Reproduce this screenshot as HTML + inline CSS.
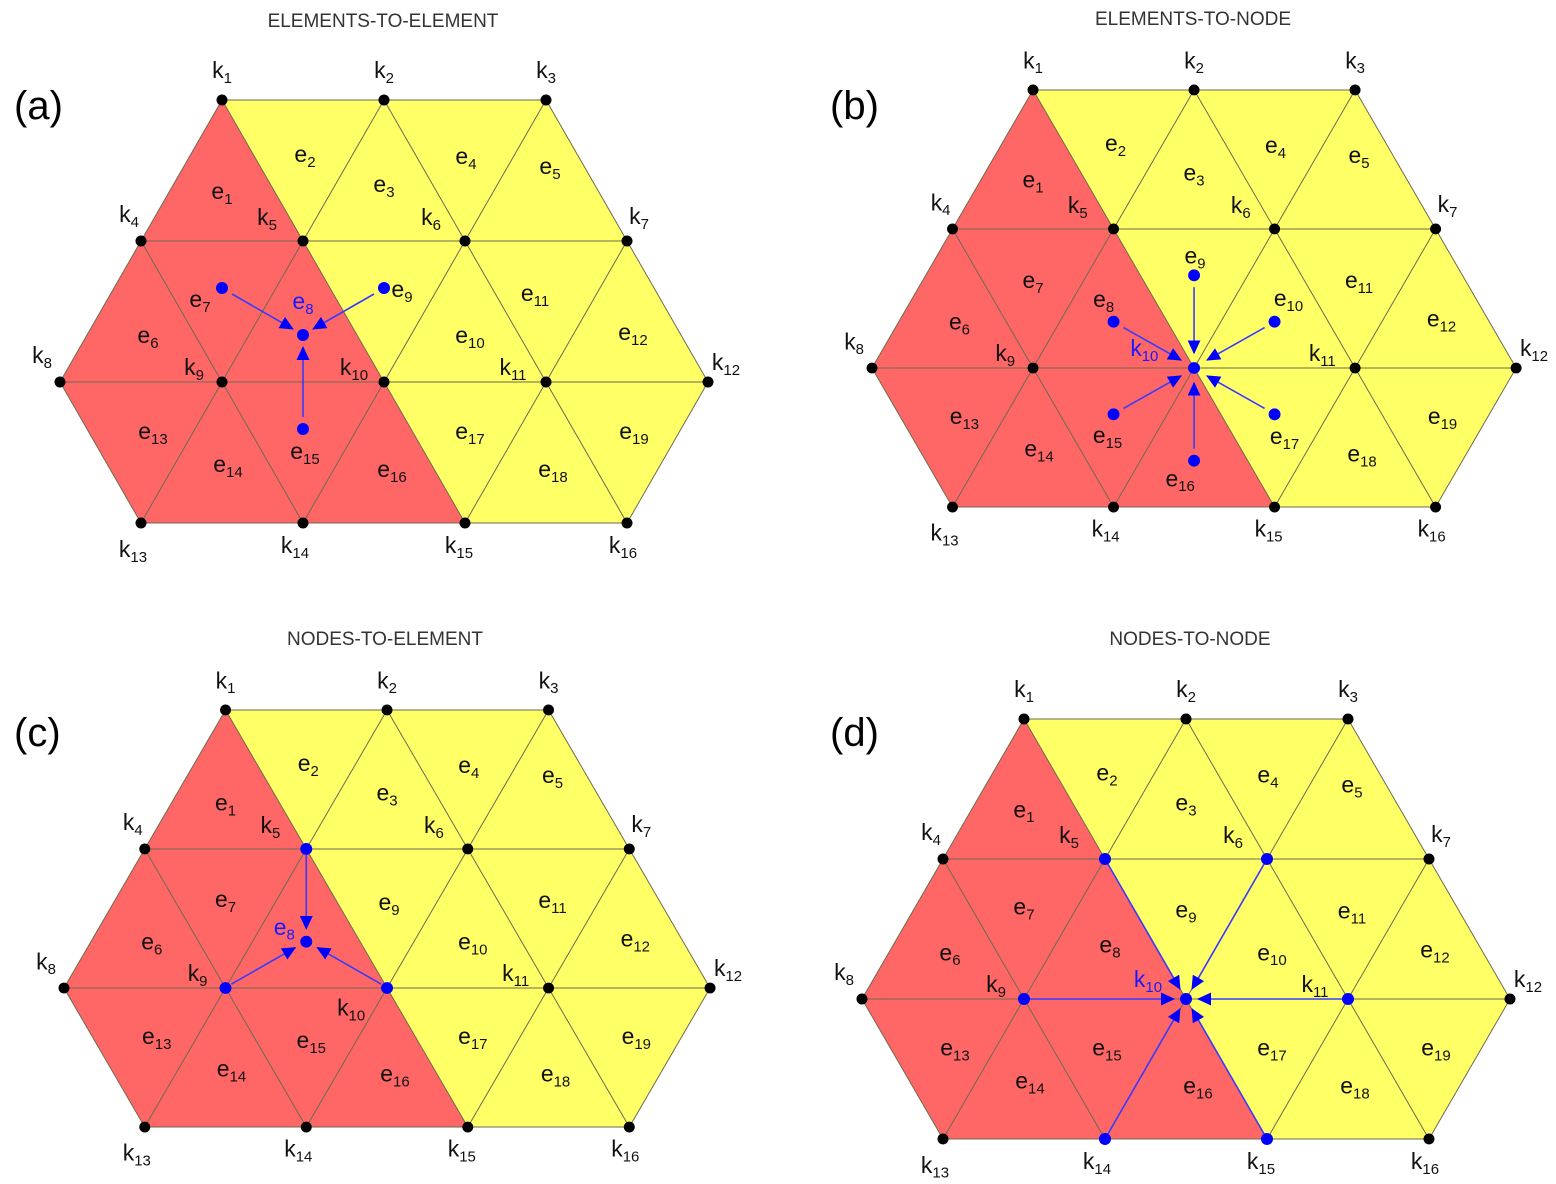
<!DOCTYPE html>
<html><head><meta charset="utf-8"><style>
html,body{margin:0;padding:0;background:#fff}
svg{display:block}
text{font-family:"Liberation Sans",sans-serif;fill:#111;font-size:23px;text-anchor:middle}
tspan.s{font-size:15px}
.t{font-size:19px;fill:#333}
.p{font-size:40px;text-anchor:start;fill:#000}
.b{fill:#1a1aff}
.e{stroke:#6e6a50;stroke-width:1;fill:none}
.bl{stroke:#3a3aff;stroke-width:1.6;fill:none}
</style></head><body>
<svg width="1556" height="1184" viewBox="0 0 1556 1184" xmlns="http://www.w3.org/2000/svg">
<defs>
<marker id="ar" markerUnits="userSpaceOnUse" markerWidth="14" markerHeight="13" refX="13" refY="6.5" orient="auto"><path d="M0,0 L14,6.5 L0,13 z" fill="#0000ff"/></marker>
</defs>
<text class="t" x="383" y="27">ELEMENTS-TO-ELEMENT</text>
<text class="t" x="1193" y="25">ELEMENTS-TO-NODE</text>
<text class="t" x="385" y="645">NODES-TO-ELEMENT</text>
<text class="t" x="1190" y="645">NODES-TO-NODE</text>
<text class="p" x="14" y="119">(a)</text>
<text class="p" x="830" y="119">(b)</text>
<text class="p" x="14" y="746">(c)</text>
<text class="p" x="830" y="746">(d)</text>

<!-- PANEL A -->
<g transform="translate(60,382)">
<polygon points="162,-282 81,-141 0,0 81,141 405,141" fill="#ff6666"/>
<polygon points="162,-282 486,-282 648,0 567,141 405,141" fill="#ffff66"/>
<path class="e" d="M162,-282H486M81,-141H567M0,0H648M81,141H567M0,0L162,-282M81,141L324,-282M243,141L486,-282M405,141L567,-141M567,141L648,0M162,-282L405,141M324,-282L567,141M486,-282L648,0M81,-141L243,141M0,0L81,141"/>
<g fill="#000"><circle cx="162" cy="-282" r="5.5"/><circle cx="324" cy="-282" r="5.5"/><circle cx="486" cy="-282" r="5.5"/><circle cx="81" cy="-141" r="5.5"/><circle cx="243" cy="-141" r="5.5"/><circle cx="405" cy="-141" r="5.5"/><circle cx="567" cy="-141" r="5.5"/><circle cx="0" cy="0" r="5.5"/><circle cx="162" cy="0" r="5.5"/><circle cx="324" cy="0" r="5.5"/><circle cx="486" cy="0" r="5.5"/><circle cx="648" cy="0" r="5.5"/><circle cx="81" cy="141" r="5.5"/><circle cx="243" cy="141" r="5.5"/><circle cx="405" cy="141" r="5.5"/><circle cx="567" cy="141" r="5.5"/></g>
<text x="162" y="-304">k<tspan class="s" dy="5">1</tspan></text>
<text x="324" y="-304">k<tspan class="s" dy="5">2</tspan></text>
<text x="486" y="-304">k<tspan class="s" dy="5">3</tspan></text>
<text x="69" y="-160">k<tspan class="s" dy="5">4</tspan></text>
<text x="207" y="-157">k<tspan class="s" dy="5">5</tspan></text>
<text x="371" y="-157">k<tspan class="s" dy="5">6</tspan></text>
<text x="579" y="-158">k<tspan class="s" dy="5">7</tspan></text>
<text x="-18" y="-19">k<tspan class="s" dy="5">8</tspan></text>
<text x="134" y="-7">k<tspan class="s" dy="5">9</tspan></text>
<text x="294" y="-7">k<tspan class="s" dy="5">10</tspan></text>
<text x="453" y="-7">k<tspan class="s" dy="5">11</tspan></text>
<text x="666" y="-12">k<tspan class="s" dy="5">12</tspan></text>
<text x="73" y="175">k<tspan class="s" dy="5">13</tspan></text>
<text x="235" y="171">k<tspan class="s" dy="5">14</tspan></text>
<text x="399" y="171">k<tspan class="s" dy="5">15</tspan></text>
<text x="563" y="171">k<tspan class="s" dy="5">16</tspan></text>
<text x="162" y="-183">e<tspan class="s" dy="5">1</tspan></text>
<text x="245" y="-220">e<tspan class="s" dy="5">2</tspan></text>
<text x="324" y="-190">e<tspan class="s" dy="5">3</tspan></text>
<text x="406" y="-218">e<tspan class="s" dy="5">4</tspan></text>
<text x="490" y="-208">e<tspan class="s" dy="5">5</tspan></text>
<text x="88" y="-39">e<tspan class="s" dy="5">6</tspan></text>
<text x="140" y="-75">e<tspan class="s" dy="5">7</tspan></text>
<text class="b" x="243" y="-73">e<tspan class="s" dy="5">8</tspan></text>
<text x="342" y="-85">e<tspan class="s" dy="5">9</tspan></text>
<text x="410" y="-39">e<tspan class="s" dy="5">10</tspan></text>
<text x="475" y="-81">e<tspan class="s" dy="5">11</tspan></text>
<text x="573" y="-42">e<tspan class="s" dy="5">12</tspan></text>
<text x="93" y="57">e<tspan class="s" dy="5">13</tspan></text>
<text x="168" y="90">e<tspan class="s" dy="5">14</tspan></text>
<text x="245" y="77">e<tspan class="s" dy="5">15</tspan></text>
<text x="332" y="95">e<tspan class="s" dy="5">16</tspan></text>
<text x="410" y="57">e<tspan class="s" dy="5">17</tspan></text>
<text x="493" y="95">e<tspan class="s" dy="5">18</tspan></text>
<text x="574" y="57">e<tspan class="s" dy="5">19</tspan></text>
<g fill="#0000ff"><circle cx="162" cy="-94" r="6"/><circle cx="324" cy="-94" r="6"/><circle cx="243" cy="-47" r="6"/><circle cx="243" cy="47" r="6"/></g>
<path class="bl" marker-end="url(#ar)" d="M172,-88L233,-53"/>
<path class="bl" marker-end="url(#ar)" d="M314,-88L253,-53"/>
<path class="bl" marker-end="url(#ar)" d="M243,35L243,-35"/>
</g>

<!-- PANEL B -->
<g transform="translate(872,368) scale(0.994,0.986)">
<polygon points="162,-282 81,-141 0,0 81,141 405,141" fill="#ff6666"/>
<polygon points="162,-282 486,-282 648,0 567,141 405,141" fill="#ffff66"/>
<path class="e" d="M162,-282H486M81,-141H567M0,0H648M81,141H567M0,0L162,-282M81,141L324,-282M243,141L486,-282M405,141L567,-141M567,141L648,0M162,-282L405,141M324,-282L567,141M486,-282L648,0M81,-141L243,141M0,0L81,141"/>
<g fill="#000"><circle cx="162" cy="-282" r="5.5"/><circle cx="324" cy="-282" r="5.5"/><circle cx="486" cy="-282" r="5.5"/><circle cx="81" cy="-141" r="5.5"/><circle cx="243" cy="-141" r="5.5"/><circle cx="405" cy="-141" r="5.5"/><circle cx="567" cy="-141" r="5.5"/><circle cx="0" cy="0" r="5.5"/><circle cx="162" cy="0" r="5.5"/><circle cx="486" cy="0" r="5.5"/><circle cx="648" cy="0" r="5.5"/><circle cx="81" cy="141" r="5.5"/><circle cx="243" cy="141" r="5.5"/><circle cx="405" cy="141" r="5.5"/><circle cx="567" cy="141" r="5.5"/></g>
<circle cx="324" cy="0" r="6" fill="#0000ff"/>
<text x="162" y="-304">k<tspan class="s" dy="5">1</tspan></text>
<text x="324" y="-304">k<tspan class="s" dy="5">2</tspan></text>
<text x="486" y="-304">k<tspan class="s" dy="5">3</tspan></text>
<text x="69" y="-160">k<tspan class="s" dy="5">4</tspan></text>
<text x="207" y="-157">k<tspan class="s" dy="5">5</tspan></text>
<text x="371" y="-157">k<tspan class="s" dy="5">6</tspan></text>
<text x="579" y="-158">k<tspan class="s" dy="5">7</tspan></text>
<text x="-18" y="-19">k<tspan class="s" dy="5">8</tspan></text>
<text x="134" y="-7">k<tspan class="s" dy="5">9</tspan></text>
<text class="b" x="274" y="-12">k<tspan class="s" dy="5">10</tspan></text>
<text x="453" y="-7">k<tspan class="s" dy="5">11</tspan></text>
<text x="666" y="-12">k<tspan class="s" dy="5">12</tspan></text>
<text x="73" y="175">k<tspan class="s" dy="5">13</tspan></text>
<text x="235" y="171">k<tspan class="s" dy="5">14</tspan></text>
<text x="399" y="171">k<tspan class="s" dy="5">15</tspan></text>
<text x="563" y="171">k<tspan class="s" dy="5">16</tspan></text>
<text x="162" y="-183">e<tspan class="s" dy="5">1</tspan></text>
<text x="245" y="-220">e<tspan class="s" dy="5">2</tspan></text>
<text x="324" y="-190">e<tspan class="s" dy="5">3</tspan></text>
<text x="406" y="-218">e<tspan class="s" dy="5">4</tspan></text>
<text x="490" y="-208">e<tspan class="s" dy="5">5</tspan></text>
<text x="88" y="-39">e<tspan class="s" dy="5">6</tspan></text>
<text x="162" y="-81">e<tspan class="s" dy="5">7</tspan></text>
<text x="233" y="-62">e<tspan class="s" dy="5">8</tspan></text>
<text x="325" y="-106">e<tspan class="s" dy="5">9</tspan></text>
<text x="419" y="-63">e<tspan class="s" dy="5">10</tspan></text>
<text x="490" y="-81">e<tspan class="s" dy="5">11</tspan></text>
<text x="573" y="-42">e<tspan class="s" dy="5">12</tspan></text>
<text x="93" y="57">e<tspan class="s" dy="5">13</tspan></text>
<text x="168" y="90">e<tspan class="s" dy="5">14</tspan></text>
<text x="237" y="76">e<tspan class="s" dy="5">15</tspan></text>
<text x="310" y="120">e<tspan class="s" dy="5">16</tspan></text>
<text x="415" y="77">e<tspan class="s" dy="5">17</tspan></text>
<text x="493" y="95">e<tspan class="s" dy="5">18</tspan></text>
<text x="574" y="57">e<tspan class="s" dy="5">19</tspan></text>
<g fill="#0000ff"><circle cx="243" cy="-47" r="6"/><circle cx="324" cy="-94" r="6"/><circle cx="405" cy="-47" r="6"/><circle cx="243" cy="47" r="6"/><circle cx="324" cy="94" r="6"/><circle cx="405" cy="47" r="6"/></g>
<path class="bl" marker-end="url(#ar)" d="M253,-41L311,-8"/>
<path class="bl" marker-end="url(#ar)" d="M395,-41L337,-8"/>
<path class="bl" marker-end="url(#ar)" d="M253,41L311,8"/>
<path class="bl" marker-end="url(#ar)" d="M395,41L337,8"/>
<path class="bl" marker-end="url(#ar)" d="M324,-82L324,-15"/>
<path class="bl" marker-end="url(#ar)" d="M324,82L324,15"/>
</g>

<!-- PANEL C -->
<g transform="translate(64,988) scale(0.997,0.986)">
<polygon points="162,-282 81,-141 0,0 81,141 405,141" fill="#ff6666"/>
<polygon points="162,-282 486,-282 648,0 567,141 405,141" fill="#ffff66"/>
<path class="e" d="M162,-282H486M81,-141H567M0,0H648M81,141H567M0,0L162,-282M81,141L324,-282M243,141L486,-282M405,141L567,-141M567,141L648,0M162,-282L405,141M324,-282L567,141M486,-282L648,0M81,-141L243,141M0,0L81,141"/>
<g fill="#000"><circle cx="162" cy="-282" r="5.5"/><circle cx="324" cy="-282" r="5.5"/><circle cx="486" cy="-282" r="5.5"/><circle cx="81" cy="-141" r="5.5"/><circle cx="405" cy="-141" r="5.5"/><circle cx="567" cy="-141" r="5.5"/><circle cx="0" cy="0" r="5.5"/><circle cx="486" cy="0" r="5.5"/><circle cx="648" cy="0" r="5.5"/><circle cx="81" cy="141" r="5.5"/><circle cx="243" cy="141" r="5.5"/><circle cx="405" cy="141" r="5.5"/><circle cx="567" cy="141" r="5.5"/></g>
<g fill="#0000ff"><circle cx="243" cy="-141" r="6"/><circle cx="162" cy="0" r="6"/><circle cx="324" cy="0" r="6"/><circle cx="243" cy="-47" r="6"/></g>
<text x="162" y="-304">k<tspan class="s" dy="5">1</tspan></text>
<text x="324" y="-304">k<tspan class="s" dy="5">2</tspan></text>
<text x="486" y="-304">k<tspan class="s" dy="5">3</tspan></text>
<text x="69" y="-160">k<tspan class="s" dy="5">4</tspan></text>
<text x="207" y="-157">k<tspan class="s" dy="5">5</tspan></text>
<text x="371" y="-157">k<tspan class="s" dy="5">6</tspan></text>
<text x="579" y="-158">k<tspan class="s" dy="5">7</tspan></text>
<text x="-18" y="-19">k<tspan class="s" dy="5">8</tspan></text>
<text x="134" y="-7">k<tspan class="s" dy="5">9</tspan></text>
<text x="288" y="28">k<tspan class="s" dy="5">10</tspan></text>
<text x="453" y="-7">k<tspan class="s" dy="5">11</tspan></text>
<text x="666" y="-12">k<tspan class="s" dy="5">12</tspan></text>
<text x="73" y="175">k<tspan class="s" dy="5">13</tspan></text>
<text x="235" y="171">k<tspan class="s" dy="5">14</tspan></text>
<text x="399" y="171">k<tspan class="s" dy="5">15</tspan></text>
<text x="563" y="171">k<tspan class="s" dy="5">16</tspan></text>
<text x="162" y="-180">e<tspan class="s" dy="5">1</tspan></text>
<text x="245" y="-220">e<tspan class="s" dy="5">2</tspan></text>
<text x="324" y="-190">e<tspan class="s" dy="5">3</tspan></text>
<text x="406" y="-218">e<tspan class="s" dy="5">4</tspan></text>
<text x="490" y="-208">e<tspan class="s" dy="5">5</tspan></text>
<text x="88" y="-39">e<tspan class="s" dy="5">6</tspan></text>
<text x="162" y="-82">e<tspan class="s" dy="5">7</tspan></text>
<text class="b" x="221" y="-54">e<tspan class="s" dy="5">8</tspan></text>
<text x="326" y="-79">e<tspan class="s" dy="5">9</tspan></text>
<text x="410" y="-39">e<tspan class="s" dy="5">10</tspan></text>
<text x="490" y="-81">e<tspan class="s" dy="5">11</tspan></text>
<text x="573" y="-42">e<tspan class="s" dy="5">12</tspan></text>
<text x="93" y="57">e<tspan class="s" dy="5">13</tspan></text>
<text x="168" y="90">e<tspan class="s" dy="5">14</tspan></text>
<text x="248" y="61">e<tspan class="s" dy="5">15</tspan></text>
<text x="332" y="95">e<tspan class="s" dy="5">16</tspan></text>
<text x="410" y="57">e<tspan class="s" dy="5">17</tspan></text>
<text x="493" y="95">e<tspan class="s" dy="5">18</tspan></text>
<text x="574" y="57">e<tspan class="s" dy="5">19</tspan></text>
<path class="bl" marker-end="url(#ar)" d="M243,-135L243,-60"/>
<path class="bl" marker-end="url(#ar)" d="M168,-4L232,-41"/>
<path class="bl" marker-end="url(#ar)" d="M318,-4L254,-41"/>
</g>

<!-- PANEL D -->
<g transform="translate(862,999) scale(1,0.993)">
<polygon points="162,-282 81,-141 0,0 81,141 405,141" fill="#ff6666"/>
<polygon points="162,-282 486,-282 648,0 567,141 405,141" fill="#ffff66"/>
<path class="e" d="M162,-282H486M81,-141H567M0,0H648M81,141H567M0,0L162,-282M81,141L324,-282M243,141L486,-282M405,141L567,-141M567,141L648,0M162,-282L405,141M324,-282L567,141M486,-282L648,0M81,-141L243,141M0,0L81,141"/>
<g fill="#000"><circle cx="162" cy="-282" r="5.5"/><circle cx="324" cy="-282" r="5.5"/><circle cx="486" cy="-282" r="5.5"/><circle cx="81" cy="-141" r="5.5"/><circle cx="567" cy="-141" r="5.5"/><circle cx="0" cy="0" r="5.5"/><circle cx="648" cy="0" r="5.5"/><circle cx="81" cy="141" r="5.5"/><circle cx="567" cy="141" r="5.5"/></g>
<path class="bl" marker-end="url(#ar)" d="M243,-141L318,-10"/>
<path class="bl" marker-end="url(#ar)" d="M405,-141L330,-10"/>
<path class="bl" marker-end="url(#ar)" d="M162,0L312,0"/>
<path class="bl" marker-end="url(#ar)" d="M486,0L336,0"/>
<path class="bl" marker-end="url(#ar)" d="M243,141L318,10"/>
<path class="bl" marker-end="url(#ar)" d="M405,141L330,10"/>
<g fill="#0000ff"><circle cx="243" cy="-141" r="6"/><circle cx="405" cy="-141" r="6"/><circle cx="162" cy="0" r="6"/><circle cx="486" cy="0" r="6"/><circle cx="243" cy="141" r="6"/><circle cx="405" cy="141" r="6"/><circle cx="324" cy="0" r="6"/></g>
<text x="162" y="-304">k<tspan class="s" dy="5">1</tspan></text>
<text x="324" y="-304">k<tspan class="s" dy="5">2</tspan></text>
<text x="486" y="-304">k<tspan class="s" dy="5">3</tspan></text>
<text x="69" y="-160">k<tspan class="s" dy="5">4</tspan></text>
<text x="207" y="-157">k<tspan class="s" dy="5">5</tspan></text>
<text x="371" y="-157">k<tspan class="s" dy="5">6</tspan></text>
<text x="579" y="-158">k<tspan class="s" dy="5">7</tspan></text>
<text x="-18" y="-19">k<tspan class="s" dy="5">8</tspan></text>
<text x="134" y="-7">k<tspan class="s" dy="5">9</tspan></text>
<text class="b" x="286" y="-12">k<tspan class="s" dy="5">10</tspan></text>
<text x="453" y="-7">k<tspan class="s" dy="5">11</tspan></text>
<text x="666" y="-12">k<tspan class="s" dy="5">12</tspan></text>
<text x="73" y="175">k<tspan class="s" dy="5">13</tspan></text>
<text x="235" y="171">k<tspan class="s" dy="5">14</tspan></text>
<text x="399" y="171">k<tspan class="s" dy="5">15</tspan></text>
<text x="563" y="171">k<tspan class="s" dy="5">16</tspan></text>
<text x="162" y="-183">e<tspan class="s" dy="5">1</tspan></text>
<text x="245" y="-220">e<tspan class="s" dy="5">2</tspan></text>
<text x="324" y="-190">e<tspan class="s" dy="5">3</tspan></text>
<text x="406" y="-218">e<tspan class="s" dy="5">4</tspan></text>
<text x="490" y="-208">e<tspan class="s" dy="5">5</tspan></text>
<text x="88" y="-39">e<tspan class="s" dy="5">6</tspan></text>
<text x="162" y="-85">e<tspan class="s" dy="5">7</tspan></text>
<text x="248" y="-47">e<tspan class="s" dy="5">8</tspan></text>
<text x="324" y="-82">e<tspan class="s" dy="5">9</tspan></text>
<text x="410" y="-39">e<tspan class="s" dy="5">10</tspan></text>
<text x="490" y="-81">e<tspan class="s" dy="5">11</tspan></text>
<text x="573" y="-42">e<tspan class="s" dy="5">12</tspan></text>
<text x="93" y="57">e<tspan class="s" dy="5">13</tspan></text>
<text x="168" y="90">e<tspan class="s" dy="5">14</tspan></text>
<text x="245" y="57">e<tspan class="s" dy="5">15</tspan></text>
<text x="336" y="95">e<tspan class="s" dy="5">16</tspan></text>
<text x="410" y="57">e<tspan class="s" dy="5">17</tspan></text>
<text x="493" y="95">e<tspan class="s" dy="5">18</tspan></text>
<text x="574" y="57">e<tspan class="s" dy="5">19</tspan></text>
</g>
</svg>
</body></html>
